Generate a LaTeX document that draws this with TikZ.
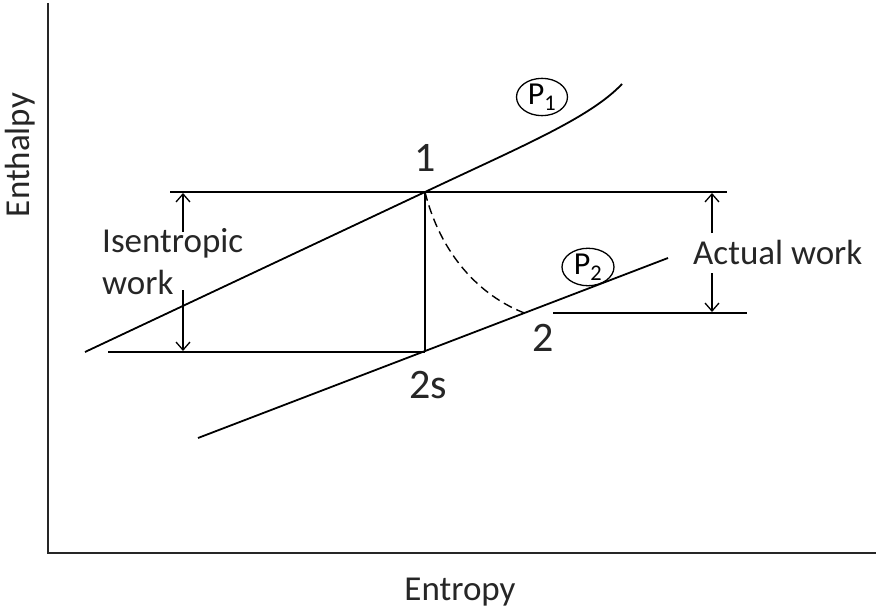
\documentclass[tikz,border=0pt]{standalone}
\usepackage{fontspec}
\setmainfont{Carlito}
\usetikzlibrary{arrows.meta,shapes.geometric}
\begin{document}
\begin{tikzpicture}[x=1pt,y=-1pt,
  ln/.style={line width=1.8pt,black},
  ax/.style={line width=2.4pt,black!85},
  lbl/.style={font=\fontsize{35}{40}\selectfont,text=black!85,inner sep=0pt},
  pt/.style={font=\fontsize{42}{46}\selectfont,text=black!85,inner sep=0pt},
  pres/.style={draw,line width=1.3pt,ellipse,inner sep=0pt,font=\fontsize{32}{34}\selectfont},
  dim/.style={line width=1.5pt,-{Straight Barb[length=8pt,width=14pt,line width=1.3pt]}}
  ]
\useasboundingbox (0,0) rectangle (876,615);
% axes
\coordinate (top) at (48,3);
\coordinate (orig) at (48,553);
\coordinate (right) at (876,553);
\draw[ax] (top) -- (orig) -- (right);
% state points
\coordinate (s1) at (425,192);
\coordinate (s2s) at (425,352);
\coordinate (s2) at (527,314);
% P1 line
\coordinate (a1) at (85,352);
\coordinate (a2) at (622,84);
\draw[ln] (a1) -- (s1) .. controls (520,147) and (590,118) .. (a2);
% P2 line
\coordinate (b1) at (198,438);
\coordinate (b2) at (668,258);
\draw[ln] (b1) -- (b2);
% horizontal lines
\coordinate (h1l) at (170,192);
\coordinate (h1r) at (727,192);
\draw[ln] (h1l) -- (h1r);
\coordinate (h2l) at (108,352);
\draw[ln] (h2l) -- (s2s);
\coordinate (h3l) at (553,313);
\coordinate (h3r) at (747,313);
\draw[ln] (h3l) -- (h3r);
% isentropic drop
\draw[ln] (s1) -- (s2s);
% actual process
\draw[line width=1.4pt,dash pattern=on 9pt off 5pt] (s1) .. controls (440,252) and (478,296) .. (s2);
% dimension arrows
\coordinate (i1) at (183,232);
\coordinate (i1e) at (183,193);
\coordinate (i2) at (183,290);
\coordinate (i2e) at (183,351);
\draw[dim] (i1) -- (i1e);
\draw[dim] (i2) -- (i2e);
\coordinate (w1) at (712,233);
\coordinate (w1e) at (712,193);
\coordinate (w2) at (712,273);
\coordinate (w2e) at (712,312);
\draw[dim] (w1) -- (w1e);
\draw[dim] (w2) -- (w2e);
% labels
\node[pt] (l1) at (425,158) {1};
\node[pt] (l2s) at (428,385) {2s};
\node[pt] (l2) at (543,338) {2};
\node[lbl,anchor=west] (isen) at (102,243) {Isentropic};
\node[lbl,anchor=west] (isw) at (102,282) {work};
\node[lbl,anchor=west] (act) at (693,252) {Actual work};
\node[pres,minimum width=51pt,minimum height=34pt] (P1) at (542,97) {P\textsubscript{1}};
\node[pres,minimum width=52pt,minimum height=32pt] (P2) at (588,267) {P\textsubscript{2}};
\node[lbl,rotate=90] (yl) at (20,155) {Enthalpy};
\node[lbl] (xl) at (460,592) {Entropy};
\end{tikzpicture}
\end{document}
